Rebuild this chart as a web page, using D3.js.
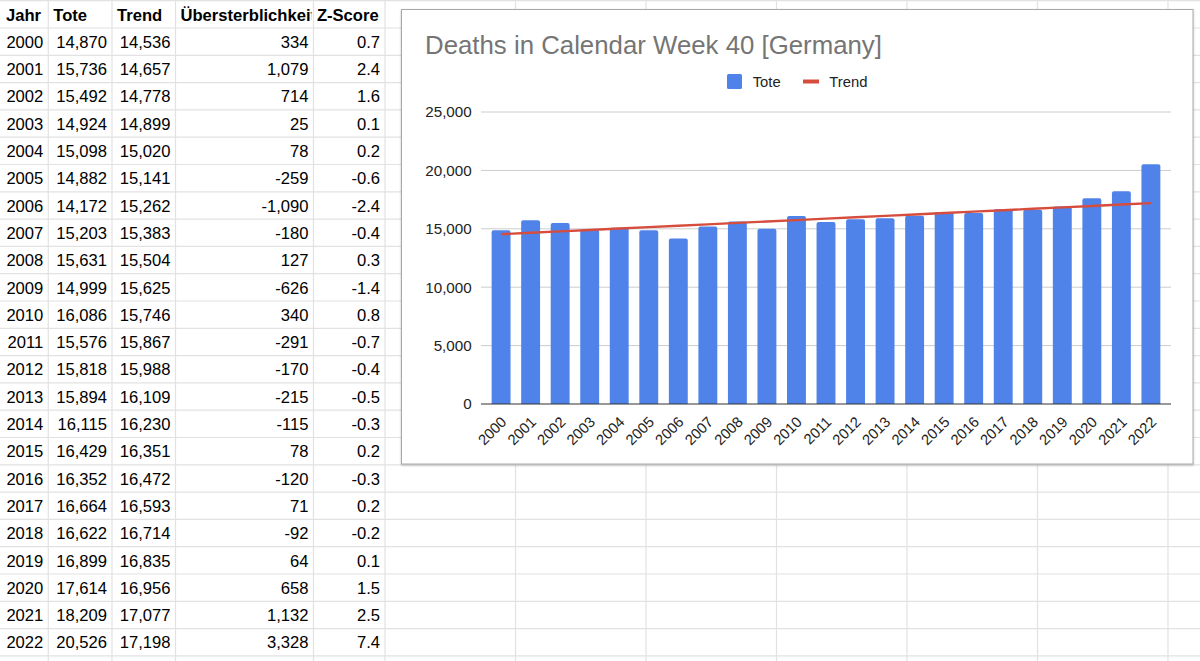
<!DOCTYPE html>
<html>
<head>
<meta charset="utf-8">
<script src="https://cdn.jsdelivr.net/npm/d3@7"></script>
<style>
  html, body { margin: 0; padding: 0; background: #fff; }
  svg { display: block; font-family: "Liberation Sans", Arial, sans-serif; }
</style>
</head>
<body>
<svg id="sheet" width="1200" height="661"></svg>
<script>
const years = [2000, 2001, 2002, 2003, 2004, 2005, 2006, 2007, 2008, 2009, 2010,
  2011, 2012, 2013, 2014, 2015, 2016, 2017, 2018, 2019, 2020, 2021, 2022]
const tote = [14870, 15736, 15492, 14924, 15098, 14882, 14172, 15203, 15631, 14999, 16086,
  15576, 15818, 15894, 16115, 16429, 16352, 16664, 16622, 16899, 17614, 18209, 20526]
const trend = [14536, 14657, 14778, 14899, 15020, 15141, 15262, 15383, 15504, 15625, 15746,
  15867, 15988, 16109, 16230, 16351, 16472, 16593, 16714, 16835, 16956, 17077, 17198]
const excess = [334, 1079, 714, 25, 78, -259, -1090, -180, 127, -626, 340,
  -291, -170, -215, -115, 78, -120, 71, -92, 64, 658, 1132, 3328]
const zScore = [0.7, 2.4, 1.6, 0.1, 0.2, -0.6, -2.4, -0.4, 0.3, -1.4, 0.8,
  -0.7, -0.4, -0.5, -0.3, 0.2, -0.3, 0.2, -0.2, 0.1, 1.5, 2.5, 7.4]
const headers = ['Jahr', 'Tote', 'Trend', 'Übersterblichkeit', 'Z-Score']
const yTicks = [0, 5000, 10000, 15000, 20000, 25000]

const svg = d3.select('#sheet')
const locale = d3.formatLocale({ decimal: '.', thousands: ',', grouping: [3], currency: ['', ''], minus: '-' })
const fmtInt = locale.format(',')
const fmtZ = locale.format('.1f')

// spreadsheet grid
const colEdges = [0, 48.3, 112, 175.5, 313.5, 385]
for (let x = 385 + 130.5; x < 1200; x += 130.5) colEdges.push(x)
const rowH = 27.3
const rowTop = 0.7
const gridColor = '#e2e2e2'

const grid = svg.append('g').attr('class', 'grid')
colEdges.slice(1).forEach(x => {
  grid.append('line')
    .attr('x1', x).attr('x2', x)
    .attr('y1', 0).attr('y2', 661)
    .attr('stroke', gridColor).attr('stroke-width', 1.2)
})
for (let i = 0; rowTop + i * rowH < 661; i++) {
  grid.append('line')
    .attr('x1', 0).attr('x2', 1200)
    .attr('y1', rowTop + i * rowH).attr('y2', rowTop + i * rowH)
    .attr('stroke', gridColor).attr('stroke-width', 1.2)
}

// clip each table column so header text overflows like a sheet
const defs = svg.append('defs')
headers.forEach((h, c) => {
  defs.append('clipPath').attr('id', 'col' + c)
    .append('rect')
    .attr('x', colEdges[c]).attr('y', 0)
    .attr('width', colEdges[c + 1] - colEdges[c] - 2).attr('height', 661)
})

const table = svg.append('g').attr('class', 'table')
  .attr('font-size', '16.6px').attr('fill', '#000')

headers.forEach((h, c) => {
  table.append('text')
    .attr('clip-path', `url(#col${c})`)
    .attr('x', colEdges[c] + (c === 0 ? 6 : c === 4 ? 3.4 : 5))
    .attr('y', rowTop + 20)
    .attr('font-weight', 'bold')
    .text(h)
})

const columns = [
  years.map(String),
  tote.map(fmtInt),
  trend.map(fmtInt),
  excess.map(fmtInt),
  zScore.map(fmtZ)
]
columns.forEach((vals, c) => {
  table.selectAll(null)
    .data(vals)
    .enter()
    .append('text')
    .attr('x', colEdges[c + 1] - 5)
    .attr('y', (d, i) => rowTop + (i + 1) * rowH + 19.8)
    .attr('text-anchor', 'end')
    .text(d => d)
})

// chart card
const box = { x: 401.5, y: 9.5, w: 791.5, h: 454.5 }
defs.append('filter').attr('id', 'shadow')
  .append('feDropShadow')
  .attr('dx', 0).attr('dy', 1).attr('stdDeviation', 1)
  .attr('flood-color', '#000').attr('flood-opacity', 0.25)

svg.append('rect')
  .attr('x', box.x).attr('y', box.y)
  .attr('width', box.w).attr('height', box.h)
  .attr('fill', '#fff')
  .attr('stroke', '#a8a8a8')
  .attr('stroke-width', 1)
  .attr('filter', 'url(#shadow)')

const chart = svg.append('g').attr('class', 'chart')

chart.append('text')
  .attr('x', 425).attr('y', 54)
  .attr('font-size', '25.8px')
  .attr('fill', '#757575')
  .text('Deaths in Calendar Week 40 [Germany]')

// legend
const legend = chart.append('g').attr('font-size', '14.8px').attr('fill', '#222')
legend.append('rect')
  .attr('x', 727).attr('y', 74).attr('width', 15).attr('height', 15)
  .attr('rx', 1.5).attr('fill', '#5083ea')
legend.append('text').attr('x', 752.7).attr('y', 86.8).text('Tote')
legend.append('line')
  .attr('x1', 803).attr('x2', 819).attr('y1', 81.5).attr('y2', 81.5)
  .attr('stroke', '#d64d3e').attr('stroke-width', 4)
legend.append('text').attr('x', 829.3).attr('y', 86.8).text('Trend')

// scales
const x = d3.scaleBand()
  .domain(years)
  .range([481, 1171])
  .padding(0.36)

const y = d3.scaleLinear()
  .domain([0, 25000])
  .range([404, 112])

// gridlines + y labels
const yAxis = chart.append('g')
yAxis.selectAll('line')
  .data(yTicks.filter(d => d > 0))
  .enter()
  .append('line')
  .attr('x1', 481).attr('x2', 1171)
  .attr('y1', d => y(d)).attr('y2', d => y(d))
  .attr('stroke', '#cccccc').attr('stroke-width', 1)

yAxis.selectAll('text')
  .data(yTicks)
  .enter()
  .append('text')
  .attr('x', 471.7)
  .attr('y', d => y(d))
  .attr('dy', '0.36em')
  .attr('text-anchor', 'end')
  .attr('font-size', '15.2px')
  .attr('fill', '#222')
  .text(d => fmtInt(d))

// bars with slightly rounded tops
const r = 2
chart.append('g')
  .selectAll('path')
  .data(years.map((yr, i) => ({ year: yr, value: tote[i] })))
  .enter()
  .append('path')
  .attr('fill', '#5083ea')
  .attr('d', d => {
    const x0 = x(d.year), x1 = x0 + x.bandwidth()
    const top = y(d.value), base = y(0)
    return `M${x0},${base}V${top + r}Q${x0},${top} ${x0 + r},${top}H${x1 - r}Q${x1},${top} ${x1},${top + r}V${base}Z`
  })

// baseline
chart.append('line')
  .attr('x1', 481).attr('x2', 1171)
  .attr('y1', y(0)).attr('y2', y(0))
  .attr('stroke', '#333').attr('stroke-width', 1.2)

// trend line
const trendLine = d3.line()
  .x((d, i) => x(years[i]) + x.bandwidth() / 2)
  .y(d => y(d))

chart.append('path')
  .datum(trend)
  .attr('d', trendLine)
  .attr('fill', 'none')
  .attr('stroke', '#d64d3e')
  .attr('stroke-width', 2.4)

// rotated year labels
chart.append('g')
  .selectAll('text')
  .data(years)
  .enter()
  .append('text')
  .attr('transform', d => `translate(${x(d) + x.bandwidth() / 2 - 1},${415.5}) rotate(-45)`)
  .attr('text-anchor', 'end')
  .attr('dy', '0.7em')
  .attr('font-size', '14.8px')
  .attr('fill', '#222')
  .text(d => d)
</script>
</body>
</html>
